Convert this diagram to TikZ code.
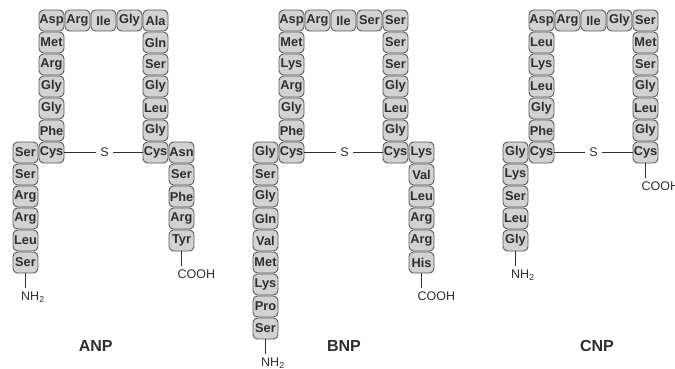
\documentclass[tikz,border=0pt]{standalone}
\usepackage{fontspec}
\setmainfont{Liberation Sans}
\usetikzlibrary{calc}
\definecolor{boxfill}{HTML}{D2D2D2}
\definecolor{boxline}{HTML}{595959}
\definecolor{ink}{HTML}{2E2E2E}
\tikzset{
  res/.style={draw=boxline, fill=boxfill, rounded corners=4.5pt,
    minimum width=25pt, minimum height=21pt, inner sep=0pt, line width=0.9pt,
    font=\fontsize{12.8}{13}\selectfont\bfseries, text=ink},
  bond/.style={draw=ink, line width=1.1pt},
  term/.style={font=\fontsize{12.5}{13}\selectfont, text=ink, inner sep=0pt, anchor=north west},
  sulfur/.style={font=\fontsize{12.5}{13}\selectfont, text=ink, inner sep=4.5pt},
  title/.style={font=\fontsize{16}{16}\selectfont\bfseries, text=ink}
}
\begin{document}
\begin{tikzpicture}[x=1pt, y=-1pt]
\useasboundingbox (0,0) rectangle (675,369);

% ---------- ANP ----------
\def\xo{51.5}
\foreach \r [count=\i from 0] in {Asp,Arg,Ile,Gly,Ala}
  \node[res] (At\i) at ({\xo+26*\i},20.5) {\r};
\foreach \r [count=\j] in {Met,Arg,Gly,Gly,Phe,Cys}
  \node[res] (Al\j) at (\xo,{20.5+22*\j}) {\r};
\foreach \r [count=\j] in {Gln,Ser,Gly,Leu,Gly,Cys}
  \node[res] (Ar\j) at ({\xo+104},{20.5+22*\j}) {\r};
\foreach \r [count=\j from 6] in {Ser,Ser,Arg,Arg,Leu,Ser}
  \node[res] (Aa\j) at ({\xo-26},{20.5+22*\j}) {\r};
\foreach \r [count=\j from 6] in {Asn,Ser,Phe,Arg,Tyr}
  \node[res] (Ab\j) at ({\xo+130},{20.5+22*\j}) {\r};
\node[sulfur] (AS) at ({\xo+53},152.5) {S};
\draw[bond] (Al6.east) -- (AS.west);
\draw[bond] (AS.east) -- (Ar6.west);
\coordinate (AN) at ($(Aa11.south)+(0,15)$);
\coordinate (AC) at ($(Ab10.south)+(0,15)$);
\draw[bond] (Aa11.south) -- (AN);
\draw[bond] (Ab10.south) -- (AC);
\node[term] (ANt) at ($(AN)+(-4.5,3.5)$) {NH\textsubscript{2}};
\node[term] (ACt) at ($(AC)+(-4,3.5)$) {COOH};
\node[title] (ANP) at (95.7,346) {ANP};

% ---------- BNP ----------
\def\xo{291.5}
\foreach \r [count=\i from 0] in {Asp,Arg,Ile,Ser,Ser}
  \node[res] (Bt\i) at ({\xo+26*\i},20.5) {\r};
\foreach \r [count=\j] in {Met,Lys,Arg,Gly,Phe,Cys}
  \node[res] (Bl\j) at (\xo,{20.5+22*\j}) {\r};
\foreach \r [count=\j] in {Ser,Ser,Gly,Leu,Gly,Cys}
  \node[res] (Br\j) at ({\xo+104},{20.5+22*\j}) {\r};
\foreach \r [count=\j from 6] in {Gly,Ser,Gly,Gln,Val,Met,Lys,Pro,Ser}
  \node[res] (Ba\j) at ({\xo-26},{20.5+22*\j}) {\r};
\foreach \r [count=\j from 6] in {Lys,Val,Leu,Arg,Arg,His}
  \node[res] (Bb\j) at ({\xo+130},{20.5+22*\j}) {\r};
\node[sulfur] (BS) at ({\xo+53},152.5) {S};
\draw[bond] (Bl6.east) -- (BS.west);
\draw[bond] (BS.east) -- (Br6.west);
\coordinate (BN) at ($(Ba14.south)+(0,15)$);
\coordinate (BC) at ($(Bb11.south)+(0,15)$);
\draw[bond] (Ba14.south) -- (BN);
\draw[bond] (Bb11.south) -- (BC);
\node[term] (BNt) at ($(BN)+(-4.5,3.5)$) {NH\textsubscript{2}};
\node[term] (BCt) at ($(BC)+(-4,3.5)$) {COOH};
\node[title] (BNP) at (344,346) {BNP};

% ---------- CNP ----------
\def\xo{541.5}
\foreach \r [count=\i from 0] in {Asp,Arg,Ile,Gly,Ser}
  \node[res] (Ct\i) at ({\xo+26*\i},20.5) {\r};
\foreach \r [count=\j] in {Leu,Lys,Leu,Gly,Phe,Cys}
  \node[res] (Cl\j) at (\xo,{20.5+22*\j}) {\r};
\foreach \r [count=\j] in {Met,Ser,Gly,Leu,Gly,Cys}
  \node[res] (Cr\j) at ({\xo+104},{20.5+22*\j}) {\r};
\foreach \r [count=\j from 6] in {Gly,Lys,Ser,Leu,Gly}
  \node[res] (Ca\j) at ({\xo-26},{20.5+22*\j}) {\r};
\node[sulfur] (CS) at ({\xo+52},152.5) {S};
\draw[bond] (Cl6.east) -- (CS.west);
\draw[bond] (CS.east) -- (Cr6.west);
\coordinate (CN) at ($(Ca10.south)+(0,15)$);
\coordinate (CC) at ($(Cr6.south)+(0,15)$);
\draw[bond] (Ca10.south) -- (CN);
\draw[bond] (Cr6.south) -- (CC);
\node[term] (CNt) at ($(CN)+(-4.5,3.5)$) {NH\textsubscript{2}};
\node[term] (CCt) at ($(CC)+(-4,3.5)$) {COOH};
\node[title] (CNP) at (597,346) {CNP};
\end{tikzpicture}
\end{document}
